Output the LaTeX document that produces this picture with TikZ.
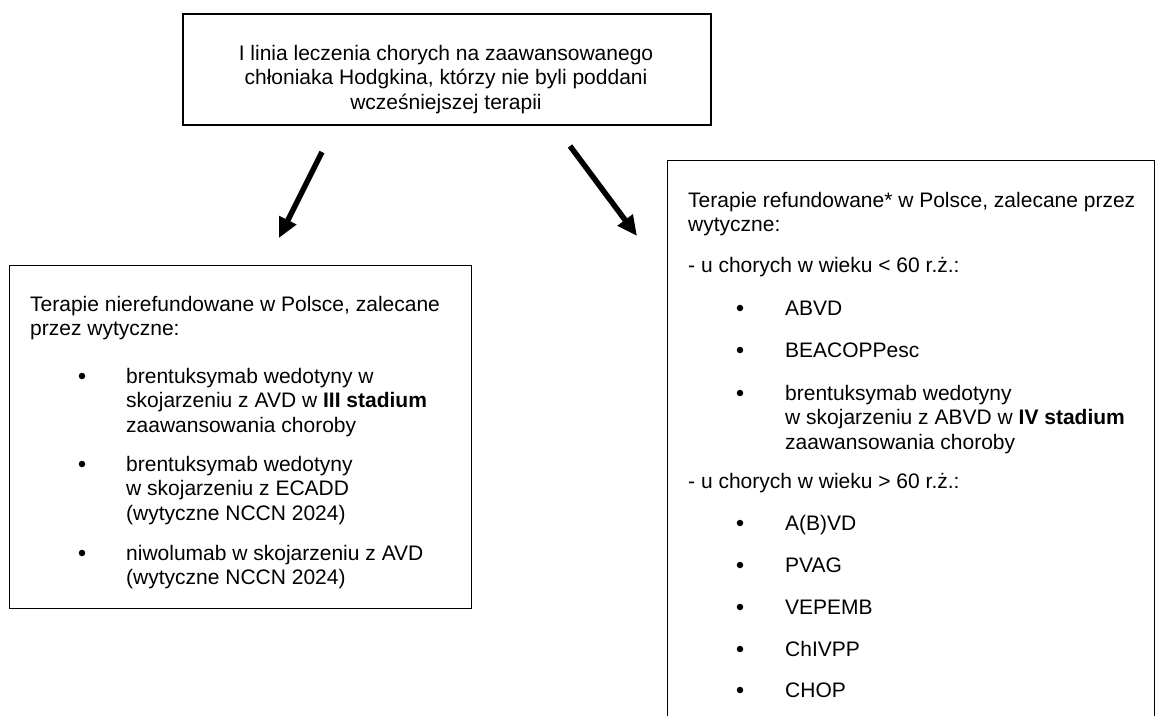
\documentclass[tikz,border=0pt]{standalone}
\usepackage{fontspec}
\setmainfont{Liberation Sans}
\usetikzlibrary{arrows.meta}
\begin{document}
\begin{tikzpicture}[x=1pt,y=-1pt,
  font=\fontsize{21}{24.5}\selectfont,
  box/.style={draw, line width=1.2pt, inner sep=0pt, anchor=north west},
  txt/.style={anchor=base west, inner sep=0pt},
  ctr/.style={anchor=base, inner sep=0pt},
  bul/.style={circle, fill, inner sep=0pt, minimum size=6.5pt},
  bigarrow/.style={line width=5.5pt, -{Triangle[length=20pt,width=18pt]}}]
\fill[white] (0,0) rectangle (1155,715);
\clip (0,0) rectangle (1155,715);

% boxes
\node[box, line width=1.6pt, minimum width=528pt, minimum height=111pt] (top) at (182,13) {};
\node[box, minimum width=462pt, minimum height=343pt] (lbox) at (9,265) {};
\node[box, minimum width=487pt, minimum height=600pt] (rbox) at (667,160) {};

% top text
\node[ctr] (t1) at (446,60) {I linia leczenia chorych na zaawansowanego};
\node[ctr] (t2) at (446,84.5) {chłoniaka Hodgkina, którzy nie byli poddani};
\node[ctr] (t3) at (446,109) {wcześniejszej terapii};

% arrows
\coordinate (a1s) at (322,152);
\coordinate (a1e) at (279,238);
\coordinate (a2s) at (570,146);
\coordinate (a2e) at (637,236);
\draw[bigarrow] (a1s) -- (a1e);
\draw[bigarrow] (a2s) -- (a2e);

% left box text
\node[txt] (l1) at (30,311) {Terapie nierefundowane w Polsce, zalecane};
\node[txt] (l2) at (30,335.5) {przez wytyczne:};
\node[bul] (lb1) at (82,376) {};
\node[txt] (l3) at (126,383) {brentuksymab wedotyny w};
\node[txt] (l4) at (126,407.5) {skojarzeniu z AVD w \textbf{III stadium}};
\node[txt] (l5) at (126,432) {zaawansowania choroby};
\node[bul] (lb2) at (82,464) {};
\node[txt] (l6) at (126,471) {brentuksymab wedotyny};
\node[txt] (l7) at (126,495.5) {w skojarzeniu z ECADD};
\node[txt] (l8) at (126,520) {(wytyczne NCCN 2024)};
\node[bul] (lb3) at (82,553) {};
\node[txt] (l9) at (126,560) {niwolumab w skojarzeniu z AVD};
\node[txt] (l10) at (126,584.5) {(wytyczne NCCN 2024)};

% right box text
\node[txt] (r1) at (688,207) {Terapie refundowane* w Polsce, zalecane przez};
\node[txt] (r2) at (688,231.5) {wytyczne:};
\node[txt] (r3) at (688,272) {- u chorych w wieku < 60 r.ż.:};
\node[bul] (rb1) at (740,308) {};
\node[txt] (r4) at (785,315) {ABVD};
\node[bul] (rb2) at (740,350) {};
\node[txt] (r5) at (785,357) {BEACOPPesc};
\node[bul] (rb3) at (740,393) {};
\node[txt] (r6) at (785,400) {brentuksymab wedotyny};
\node[txt] (r7) at (785,424.5) {w skojarzeniu z ABVD w \textbf{IV stadium}};
\node[txt] (r8) at (785,449) {zaawansowania choroby};
\node[txt] (r9) at (688,488) {- u chorych w wieku > 60 r.ż.:};
\node[bul] (rb4) at (740,523) {};
\node[txt] (r10) at (785,530) {A(B)VD};
\node[bul] (rb5) at (740,565) {};
\node[txt] (r11) at (785,572) {PVAG};
\node[bul] (rb6) at (740,607) {};
\node[txt] (r12) at (785,614) {VEPEMB};
\node[bul] (rb7) at (740,649) {};
\node[txt] (r13) at (785,656) {ChIVPP};
\node[bul] (rb8) at (740,690) {};
\node[txt] (r14) at (785,697) {CHOP};
\end{tikzpicture}
\end{document}
